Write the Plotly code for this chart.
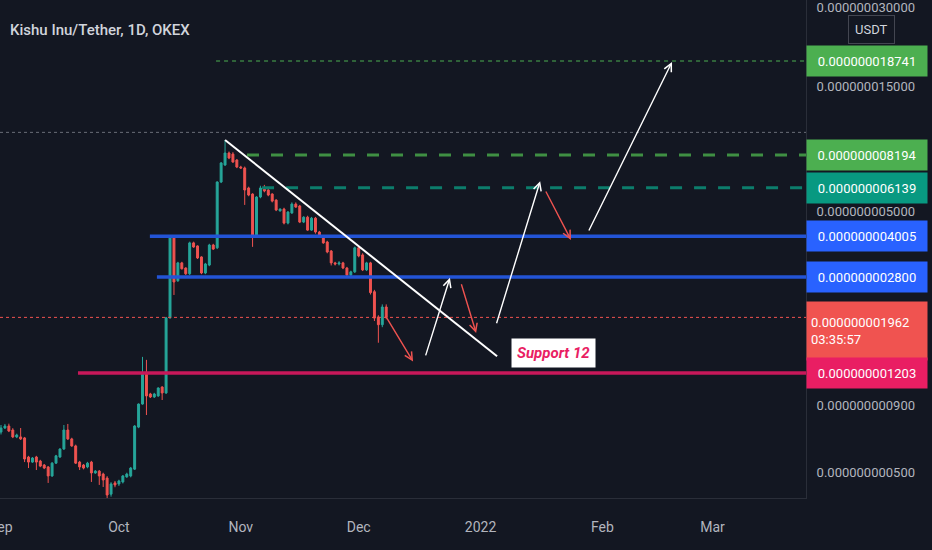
import numpy as np
import pandas as pd
import plotly.graph_objects as go

# daily candles, prices in units of 1e-9 USDT
dates = pd.date_range("2021-09-01", periods=99, freq="D")
opens = [0.715, 0.741, 0.754, 0.728, 0.685, 0.685, 0.679, 0.574, 0.549, 0.574,
         0.554, 0.535, 0.526, 0.486, 0.544, 0.574, 0.616, 0.728, 0.673, 0.633,
         0.549, 0.535, 0.526, 0.549, 0.499, 0.507, 0.494, 0.477, 0.414, 0.457,
         0.453, 0.461, 0.482, 0.486, 0.516, 0.747, 0.915, 1.188, 1.000, 0.974,
         0.983, 1.063, 1.009, 1.954, 3.980, 2.710, 3.170, 3.030, 2.880, 3.780,
         3.680, 3.340, 2.900, 3.110, 3.710, 3.620, 6.460, 7.500, 8.340, 8.260,
         7.840, 7.370, 7.310, 6.130, 5.810, 4.020, 5.660, 6.130, 6.020, 5.810,
         5.510, 5.010, 5.090, 4.500, 4.920, 5.320, 5.230, 4.540, 4.740, 4.230,
         4.700, 4.160, 4.020, 3.810, 3.520, 3.170, 3.140, 3.170, 3.030, 2.850,
         2.930, 3.620, 3.400, 2.980, 3.170, 2.460, 1.970, 1.840, 2.150]
highs = [0.761, 0.768, 0.770, 0.740, 0.705, 0.741, 0.685, 0.580, 0.574, 0.580,
         0.560, 0.540, 0.530, 0.549, 0.585, 0.620, 0.761, 0.768, 0.680, 0.640,
         0.555, 0.540, 0.550, 0.555, 0.512, 0.512, 0.500, 0.485, 0.460, 0.465,
         0.470, 0.490, 0.500, 0.526, 0.760, 0.920, 1.386, 1.350, 1.010, 1.010,
         1.060, 1.070, 1.970, 4.020, 4.000, 3.200, 3.200, 3.050, 3.820, 3.820,
         3.700, 3.360, 3.170, 3.750, 3.750, 6.500, 7.700, 9.350, 8.450, 8.400,
         7.900, 7.450, 7.400, 6.200, 5.850, 5.700, 6.250, 6.300, 6.100, 5.850,
         5.550, 5.120, 5.150, 5.000, 5.400, 5.400, 5.280, 4.780, 4.800, 4.750,
         4.750, 4.200, 4.050, 3.850, 3.550, 3.200, 3.220, 3.200, 3.060, 2.960,
         3.660, 3.660, 3.450, 3.200, 3.200, 2.500, 2.000, 2.200, 2.200]
lows = [0.700, 0.735, 0.715, 0.678, 0.678, 0.667, 0.549, 0.521, 0.545, 0.512,
        0.525, 0.516, 0.457, 0.482, 0.540, 0.570, 0.611, 0.667, 0.628, 0.540,
        0.512, 0.515, 0.520, 0.461, 0.495, 0.449, 0.441, 0.400, 0.405, 0.440,
        0.445, 0.455, 0.478, 0.480, 0.512, 0.740, 0.910, 0.831, 0.965, 0.965,
        0.975, 0.948, 1.000, 1.940, 2.390, 2.680, 2.990, 2.850, 2.850, 3.620,
        3.280, 2.870, 2.870, 3.080, 3.550, 3.580, 6.400, 7.450, 7.900, 7.650,
        7.300, 7.250, 5.280, 5.700, 3.650, 3.950, 5.600, 5.900, 5.700, 5.400,
        5.000, 4.980, 4.450, 4.450, 4.880, 5.150, 4.500, 4.500, 4.200, 4.200,
        4.100, 3.980, 3.750, 3.450, 3.100, 3.100, 3.100, 3.000, 2.800, 2.820,
        2.900, 3.330, 2.950, 2.950, 2.400, 1.900, 1.570, 1.800, 1.930]
closes = [0.741, 0.754, 0.722, 0.685, 0.697, 0.673, 0.564, 0.549, 0.569, 0.549,
          0.530, 0.521, 0.486, 0.544, 0.580, 0.616, 0.728, 0.673, 0.633, 0.544,
          0.526, 0.521, 0.544, 0.499, 0.507, 0.486, 0.469, 0.411, 0.453, 0.449,
          0.465, 0.486, 0.494, 0.521, 0.754, 0.915, 1.188, 0.983, 0.974, 1.000,
          1.054, 1.009, 1.954, 3.980, 2.680, 3.170, 3.010, 2.880, 3.780, 3.645,
          3.310, 2.900, 3.140, 3.710, 3.580, 6.460, 7.640, 8.340, 7.980, 7.700,
          7.370, 7.310, 6.020, 5.760, 4.020, 5.660, 6.130, 5.970, 5.760, 5.460,
          5.050, 5.090, 4.500, 4.960, 5.320, 5.180, 4.540, 4.740, 4.230, 4.700,
          4.160, 4.020, 3.780, 3.490, 3.170, 3.140, 3.170, 3.030, 2.850, 2.930,
          3.620, 3.370, 2.980, 3.170, 2.440, 1.950, 1.840, 2.150, 1.962]

# horizontal levels drawn on the chart
level_prices = [18.741, 8.194, 6.139, 4.005, 2.800, 1.203]
level_starts = ["2021-10-25 17:00", "2021-11-02 14:00", "2021-11-06 10:00",
                "2021-10-08 21:00", "2021-10-10 16:00", "2021-09-20 14:00"]
level_colors = ["#4caf50", "#3f8f43", "#0c7d6c", "#2354d6", "#2354d6", "#c8185a"]
level_widths = [1, 3, 3, 3.5, 3.5, 3.5]
level_dash = ["4px,4px", "12px,12px", "12px,12px", "solid", "solid", "solid"]
label_colors = ["#4caf50", "#4caf50", "#089981", "#2962ff", "#2962ff", "#e91e63"]

last_price = 1.962
high_mark = 10.0

trend_dates = ["2021-10-28 00:00", "2022-01-05 05:00"]
trend_prices = [9.35, 1.394]

# arrows: tail date, tail price, head date, head price, colour
arrows = [
    ("2021-12-17 22:00", 1.386, "2021-12-24 05:00", 2.78, "#ffffff"),
    ("2022-01-04 23:00", 1.84, "2022-01-16 04:00", 6.51, "#ffffff"),
    ("2022-01-28 09:00", 4.16, "2022-02-18 17:00", 18.58, "#ffffff"),
    ("2021-12-07 17:00", 2.00, "2021-12-14 20:00", 1.33, "#ef5350"),
    ("2021-12-27 00:00", 2.66, "2021-12-30 21:00", 1.71, "#ef5350"),
    ("2022-01-17 10:00", 6.02, "2022-01-24 00:00", 3.88, "#ef5350"),
]

x_ticks = ["2021-10-01", "2021-11-01", "2021-12-01",
           "2022-01-01", "2022-02-01", "2022-03-01"]
x_labels = ["Oct", "Nov", "Dec", "2022", "Feb", "Mar"]
y_ticks = [3e-8, 1.5e-8, 5e-9, 9e-10, 5e-10]

N = 1e-9
x_start, x_end = "2021-08-31 17:54", "2022-03-24 19:00"
bg = "#131722"

fig = go.Figure()

for p, s, c, w, d in zip(level_prices, level_starts, level_colors, level_widths, level_dash):
    fig.add_trace(go.Scatter(x=[s, x_end], y=[p * N, p * N], mode="lines",
                             line=dict(color=c, width=w, dash=d), hoverinfo="skip"))

fig.add_trace(go.Scatter(x=[x_start, x_end], y=[high_mark * N] * 2, mode="lines",
                         line=dict(color="#6a6d78", width=1, dash="dot"), hoverinfo="skip"))
fig.add_trace(go.Scatter(x=[x_start, x_end], y=[last_price * N] * 2, mode="lines",
                         line=dict(color="#ef5350", width=1, dash="dot"), hoverinfo="skip"))

fig.add_trace(go.Candlestick(
    x=dates,
    open=[v * N for v in opens], high=[v * N for v in highs],
    low=[v * N for v in lows], close=[v * N for v in closes],
    increasing=dict(line=dict(color="#26a69a", width=1), fillcolor="#26a69a"),
    decreasing=dict(line=dict(color="#ef5350", width=1), fillcolor="#ef5350"),
))

fig.add_trace(go.Scatter(x=trend_dates, y=[v * N for v in trend_prices], mode="lines",
                         line=dict(color="#ffffff", width=2), hoverinfo="skip"))

for tx, ty, hx, hy, c in arrows:
    fig.add_annotation(x=hx, y=np.log10(hy * N), ax=tx, ay=np.log10(ty * N),
                       xref="x", yref="y", axref="x", ayref="y", text="",
                       showarrow=True, arrowhead=5, arrowsize=1.1, arrowwidth=1.4,
                       arrowcolor=c, standoff=0)

fig.add_annotation(x="2022-01-19 14:00", y=np.log10(1.43 * N), xref="x", yref="y",
                   text="<b><i>Support 12</i></b>", showarrow=False, bgcolor="#ffffff",
                   font=dict(family="Roboto", size=15, color="#e91e63"), borderpad=5)

# September label, cut by the left edge as in the original
fig.add_annotation(x="2021-09-01", xref="x", yref="paper", y=0, yanchor="middle",
                   yshift=-29, text="Sep", showarrow=False,
                   font=dict(family="Roboto", size=14, color="#b2b5be"))

# price labels on the right scale
box = dict(xref="paper", x=1, xanchor="left", yref="y", showarrow=False,
           width=112, height=22, borderpad=4, align="center")
for p, c in zip(level_prices[:5], label_colors[:5]):
    fig.add_annotation(y=np.log10(p * N), text=f"{p * N:.12f}", bgcolor=c,
                       font=dict(family="Roboto", size=13, color="#ffffff"), **box)
fig.add_annotation(xref="paper", x=1, xanchor="left", yref="y",
                   y=np.log10(last_price * N), yshift=-14, showarrow=False,
                   text=f"{last_price * N:.12f}<br>03:35:57", bgcolor="#f05350",
                   width=112, height=50, borderpad=4, align="left",
                   font=dict(family="Roboto", size=13, color="#ffffff"))
fig.add_annotation(y=np.log10(level_prices[5] * N), text=f"{level_prices[5] * N:.12f}",
                   bgcolor=label_colors[5],
                   font=dict(family="Roboto", size=13, color="#ffffff"), **box)

fig.add_annotation(xref="paper", x=1, xanchor="left", xshift=42, yref="paper",
                   y=1 - 30 / 498, yanchor="middle", text="USDT", showarrow=False,
                   bgcolor=bg, bordercolor="#434651", borderwidth=1, borderpad=6,
                   font=dict(family="Roboto", size=13, color="#d1d4dc"))

fig.add_annotation(xref="paper", x=0, xanchor="left", xshift=8, yref="paper",
                   y=1 - 30 / 498, yanchor="middle", showarrow=False,
                   text="Kishu Inu/Tether, 1D, OKEX",
                   font=dict(family="Roboto", size=15, weight=500, color="#d1d4dc"))

fig.update_layout(
    width=932, height=550,
    margin=dict(l=0, r=126, t=0, b=52),
    paper_bgcolor=bg, plot_bgcolor=bg,
    showlegend=False,
    xaxis=dict(range=[x_start, x_end], rangeslider=dict(visible=False),
               showgrid=False, zeroline=False, showline=True, linecolor="#2a2e39",
               tickvals=x_ticks, ticktext=x_labels, ticks="", ticklabelstandoff=16,
               tickfont=dict(family="Roboto", size=14, color="#b2b5be")),
    yaxis=dict(type="log", side="right", range=[-9.3977, -7.4940],
               showgrid=False, zeroline=False, showline=True, linecolor="#2a2e39",
               tickvals=y_ticks, ticktext=[f"{v:.12f}" for v in y_ticks],
               ticks="", ticklabelstandoff=7,
               tickfont=dict(family="Roboto", size=13, color="#b2b5be")),
)

fig.write_html("out.html", config={"displayModeBar": False},
               post_script="document.body.style.margin='0';"
                           "document.body.style.background='#131722';")
